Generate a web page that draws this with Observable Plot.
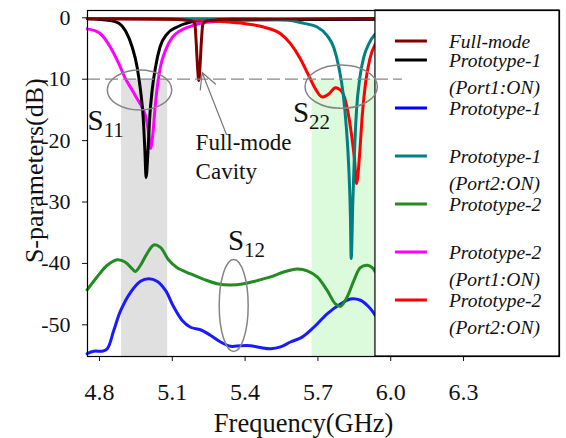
<!DOCTYPE html>
<html><head><meta charset="utf-8">
<script src="https://cdn.jsdelivr.net/npm/d3@7"></script>
<script src="https://cdn.jsdelivr.net/npm/@observablehq/plot@0.6"></script>
<style>body{margin:0;background:#fff}</style>
</head><body><div id="chart"></div>
<script>
// ---------- data ----------
const xTicks = [4.8, 5.1, 5.4, 5.7, 6.0, 6.3];
const yTicks = [0, -10, -20, -30, -40, -50];
const xDomain = [4.7506, 6.6954];
const yDomain = [-55.16, 1.19];
const dataEnd = 5.937;

const fullModeFreq = [4.75, 5.10, 5.18, 5.193, 5.198, 5.204, 5.209, 5.214, 5.220, 5.226, 5.24, 5.35, 5.937];
const fullModeDB   = [-0.15, -0.25, -0.5, -1.0, -3.7, -8.0, -10.2, -8.0, -3.7, -1.0, -0.5, -0.2, -0.1];

const p1Port1Freq = [4.75, 4.845, 4.88, 4.907, 4.935, 4.955, 4.969, 4.980, 4.987, 4.992, 5.0, 5.007, 5.017, 5.031, 5.049, 5.079, 5.12, 5.175, 5.25, 5.937];
const p1Port1DB   = [-0.15, -0.45, -0.9, -2.1, -4.8, -8.0, -11.8, -16.2, -21.6, -26.0, -21.6, -16.2, -11.8, -8.0, -4.8, -2.6, -1.5, -0.7, -0.35, -0.25];

const p1S12Freq = [4.749, 4.777, 4.811, 4.832, 4.859, 4.887, 4.928, 4.969, 5.003, 5.037, 5.072, 5.106, 5.141, 5.175, 5.216, 5.257, 5.299, 5.340, 5.381, 5.422, 5.463, 5.505, 5.546, 5.587, 5.635, 5.683, 5.738, 5.793, 5.834, 5.875, 5.910, 5.937];
const p1S12DB   = [-54.7, -54.3, -54.3, -53.9, -50.9, -47.7, -44.7, -42.9, -42.5, -42.9, -44.4, -47.1, -49.3, -50.4, -50.8, -51.7, -52.8, -53.5, -53.4, -53.4, -53.7, -53.9, -53.6, -52.8, -52.0, -50.4, -48.2, -46.6, -45.8, -46.0, -47.1, -48.5];

const p1Port2Freq = [4.75, 5.3, 5.5, 5.587, 5.642, 5.697, 5.738, 5.765, 5.786, 5.804, 5.817, 5.827, 5.834, 5.837, 5.844, 5.851, 5.859, 5.873, 5.889, 5.910, 5.937];
const p1Port2DB   = [-0.1, -0.15, -0.25, -0.44, -0.9, -1.5, -2.9, -4.8, -8.0, -12.4, -17.8, -24.3, -32.5, -39.2, -29.8, -21.6, -15.1, -9.7, -6.4, -4.2, -2.6];

const p2S12Freq = [4.749, 4.790, 4.832, 4.873, 4.907, 4.935, 4.948, 4.969, 4.996, 5.024, 5.051, 5.086, 5.120, 5.175, 5.230, 5.285, 5.340, 5.395, 5.450, 5.505, 5.559, 5.615, 5.656, 5.697, 5.738, 5.772, 5.793, 5.820, 5.848, 5.875, 5.903, 5.924, 5.937];
const p2S12DB   = [-44.3, -42.2, -40.3, -39.4, -39.8, -40.9, -41.3, -40.3, -38.4, -37.0, -37.4, -39.5, -40.7, -41.7, -42.6, -43.3, -43.5, -43.3, -42.8, -42.2, -41.4, -40.9, -41.2, -42.2, -44.4, -46.6, -47.0, -45.5, -42.8, -40.7, -40.3, -40.7, -41.4];

const p2Port1Freq = [4.75, 4.78, 4.804, 4.845, 4.880, 4.907, 4.935, 4.955, 4.976, 4.994, 5.003, 5.010, 5.020, 5.028, 5.038, 5.051, 5.072, 5.1, 5.133, 5.175, 5.216, 5.3, 5.5, 5.937];
const p2Port1DB   = [-1.8, -2.1, -2.6, -4.8, -7.5, -9.9, -11.8, -13.2, -14.6, -16.7, -18.9, -21.3, -18.9, -15.1, -11.3, -8.0, -5.3, -3.2, -2.1, -1.4, -0.9, -0.5, -0.3, -0.2];

const p2Port2Freq = [4.75, 5.0, 5.15, 5.25, 5.33, 5.408, 5.476, 5.546, 5.587, 5.628, 5.662, 5.690, 5.718, 5.745, 5.772, 5.800, 5.820, 5.838, 5.851, 5.859, 5.873, 5.882, 5.896, 5.914, 5.937];
const p2Port2DB   = [-0.1, -0.15, -0.3, -0.5, -0.7, -1.0, -1.5, -2.6, -4.2, -6.7, -9.4, -11.6, -12.9, -12.4, -11.4, -12.1, -14.6, -18.9, -23.2, -27.0, -21.6, -16.2, -10.7, -6.7, -4.2];

// legend
const legendLabels = ["Full-mode", "Prototype-1", "Prototype-1", "Prototype-1", "Prototype-2", "Prototype-2", "Prototype-2"];
const legendSubs   = ["", "(Port1:ON)", "", "(Port2:ON)", "", "(Port1:ON)", "(Port2:ON)"];
const legendColors = ["#800000", "#000000", "#0000ff", "#008080", "#228b22", "#ff00ff", "#ff0000"];

// shaded bands
const bandStart = [4.891, 5.676];
const bandEnd   = [5.081, 5.937];
const bandFill  = ["#e0e0e0", "#dcfadc"];

// annotations
const subLabels = ["11", "22", "12"];
const subFreq   = [4.7526, 5.599, 5.3315];
const subDB     = [-18.36, -17.0, -37.9];
const ellCx = [4.967, 5.798, 5.355];
const ellCy = [-11.84, -11.3, -46.94];
const ellRx = [0.1327, 0.149, 0.0597];
const ellRy = [3.26, 3.53, 7.49];

// ---------- build tables ----------
function series(name, f, db) { return f.map((v, i) => ({series: name, f: v, db: db[i]})); }
const fullMode = series("Full-mode", fullModeFreq, fullModeDB);
const p1Port1 = series("P1 port1", p1Port1Freq, p1Port1DB);
const p1S12 = series("P1 S12", p1S12Freq, p1S12DB);
const p1Port2 = series("P1 port2", p1Port2Freq, p1Port2DB);
const p2S12 = series("P2 S12", p2S12Freq, p2S12DB);
const p2Port1 = series("P2 port1", p2Port1Freq, p2Port1DB);
const p2Port2 = series("P2 port2", p2Port2Freq, p2Port2DB);
const bands = bandStart.map((s, i) => ({x1: s, x2: bandEnd[i], fill: bandFill[i]}));

const serif = "'Liberation Serif', 'Times New Roman', serif";

function legendMark(index, scales, values, dims) {
  const {x} = scales;
  const g = d3.create("svg:g");
  const left = x(dataEnd), right = dims.width - dims.marginRight;
  const top = dims.marginTop, bottom = dims.height - dims.marginBottom;
  g.append("rect").attr("x", left).attr("y", top).attr("width", right - left).attr("height", bottom - top)
    .attr("fill", "white").attr("stroke", "black").attr("stroke-width", 1.2);
  legendLabels.forEach((lab, i) => {
    const cy = top + (i === 0 ? 31 : 50 + 48 * (i - 1));
    g.append("line").attr("x1", left + 20).attr("x2", left + 52).attr("y1", cy).attr("y2", cy)
      .attr("stroke", legendColors[i]).attr("stroke-width", 3);
    g.append("text").attr("x", left + 74).attr("y", cy).attr("dy", "0.36em").text(lab)
      .attr("text-anchor", "start").attr("font-family", serif).attr("font-style", "italic").attr("font-size", 19.5).attr("fill", "#111");
    if (legendSubs[i]) g.append("text").attr("x", left + 74).attr("y", cy + 27).attr("dy", "0.36em").text(legendSubs[i])
      .attr("text-anchor", "start").attr("font-family", serif).attr("font-style", "italic").attr("font-size", 19.5).attr("fill", "#111");
  });
  return g.node();
}

function ellipseMark(index, scales) {
  const {x, y} = scales;
  const g = d3.create("svg:g");
  ellCx.forEach((cx, i) => {
    g.append("ellipse").attr("cx", x(cx)).attr("cy", y(ellCy[i]))
      .attr("rx", Math.abs(x(cx + ellRx[i]) - x(cx))).attr("ry", Math.abs(y(ellCy[i] + ellRy[i]) - y(ellCy[i])))
      .attr("fill", "none").attr("stroke", "#858585").attr("stroke-width", 1.5);
  });
  return g.node();
}

function subscriptMark(index, scales) {
  const {x, y} = scales;
  const g = d3.create("svg:g");
  subLabels.forEach((s, i) => {
    const t = g.append("text").attr("x", x(subFreq[i])).attr("y", y(subDB[i]))
      .attr("text-anchor", "start").attr("font-family", serif).attr("fill", "#111");
    t.append("tspan").attr("font-size", 29).text("S");
    t.append("tspan").attr("font-size", 21).attr("dy", 7).text(s);
  });
  return g.node();
}

const chart = Plot.plot({
  width: 566,
  height: 438,
  marginLeft: 87,
  marginRight: 7,
  marginTop: 10,
  marginBottom: 82,
  style: {fontFamily: serif, fontSize: "22px", color: "#111", background: "white"},
  x: {domain: xDomain, ticks: xTicks, tickFormat: d3.format(".1f"), tickSize: 5, tickPadding: 21, label: null},
  y: {domain: yDomain, ticks: yTicks, tickFormat: d => String(d), tickSize: 5, tickPadding: 12, label: null},
  marks: [
    Plot.rect(bands, {x1: "x1", x2: "x2", y1: -10, y2: yDomain[0], fill: d => d.fill}),
    Plot.line(p1S12, {x: "f", y: "db", stroke: "#1a1aff", strokeWidth: 3, curve: "catmull-rom"}),
    Plot.line(p2S12, {x: "f", y: "db", stroke: "#228b22", strokeWidth: 3, curve: "catmull-rom"}),
    Plot.line(p2Port1, {x: "f", y: "db", stroke: "#ff00ff", strokeWidth: 3, curve: "monotone-x"}),
    Plot.line(p1Port1, {x: "f", y: "db", stroke: "#000000", strokeWidth: 3, curve: "monotone-x"}),
    Plot.line(p2Port2, {x: "f", y: "db", stroke: "#ff0000", strokeWidth: 3, curve: "monotone-x"}),
    Plot.line(p1Port2, {x: "f", y: "db", stroke: "#008080", strokeWidth: 3, curve: "monotone-x"}),
    Plot.line(fullMode, {x: "f", y: "db", stroke: "#800000", strokeWidth: 3, curve: "monotone-x"}),
    legendMark,
    Plot.ruleY([-10], {x1: xDomain[0], x2: 6.048, stroke: "#888", strokeWidth: 1.3, strokeDasharray: "13,5"}),
    ellipseMark,
    Plot.arrow([{x1: 5.323, y1: -19.0, x2: 5.223, y2: -8.9}], {x1: "x1", y1: "y1", x2: "x2", y2: "y2", stroke: "#777", strokeWidth: 1.2, headLength: 22, headAngle: 55}),
    Plot.text(["Full-mode", "Cavity"], {x: 5.196, y: [-21.6, -26.2], text: d => d, textAnchor: "start", lineAnchor: "bottom", fontSize: 23, fill: "#111"}),
    subscriptMark,
    Plot.text(["Frequency(GHz)"], {x: 5.641, frameAnchor: "bottom", dy: 67, textAnchor: "middle", lineAnchor: "middle", fontSize: 26.5, fill: "#111"}),
    Plot.text(["S-parameters(dB)"], {y: -24.9, frameAnchor: "left", dx: -53, rotate: -90, textAnchor: "middle", lineAnchor: "middle", fontSize: 26, fill: "#111"}),
    Plot.frame({stroke: "black", strokeWidth: 1.2})
  ]
});
chart.setAttribute("font-family", serif);
chart.style.fontFamily = serif;
chart.querySelectorAll("text").forEach(t => { t.style.fontFamily = serif; });
chart.querySelectorAll('g[aria-label^="x-axis"]').forEach(g => {
  g.setAttribute("font-size", "24");
  g.style.fontSize = "24px";
  g.querySelectorAll("text").forEach(t => { t.style.fontSize = "24px"; });
});
document.getElementById("chart").appendChild(chart);
</script>
</body></html>
